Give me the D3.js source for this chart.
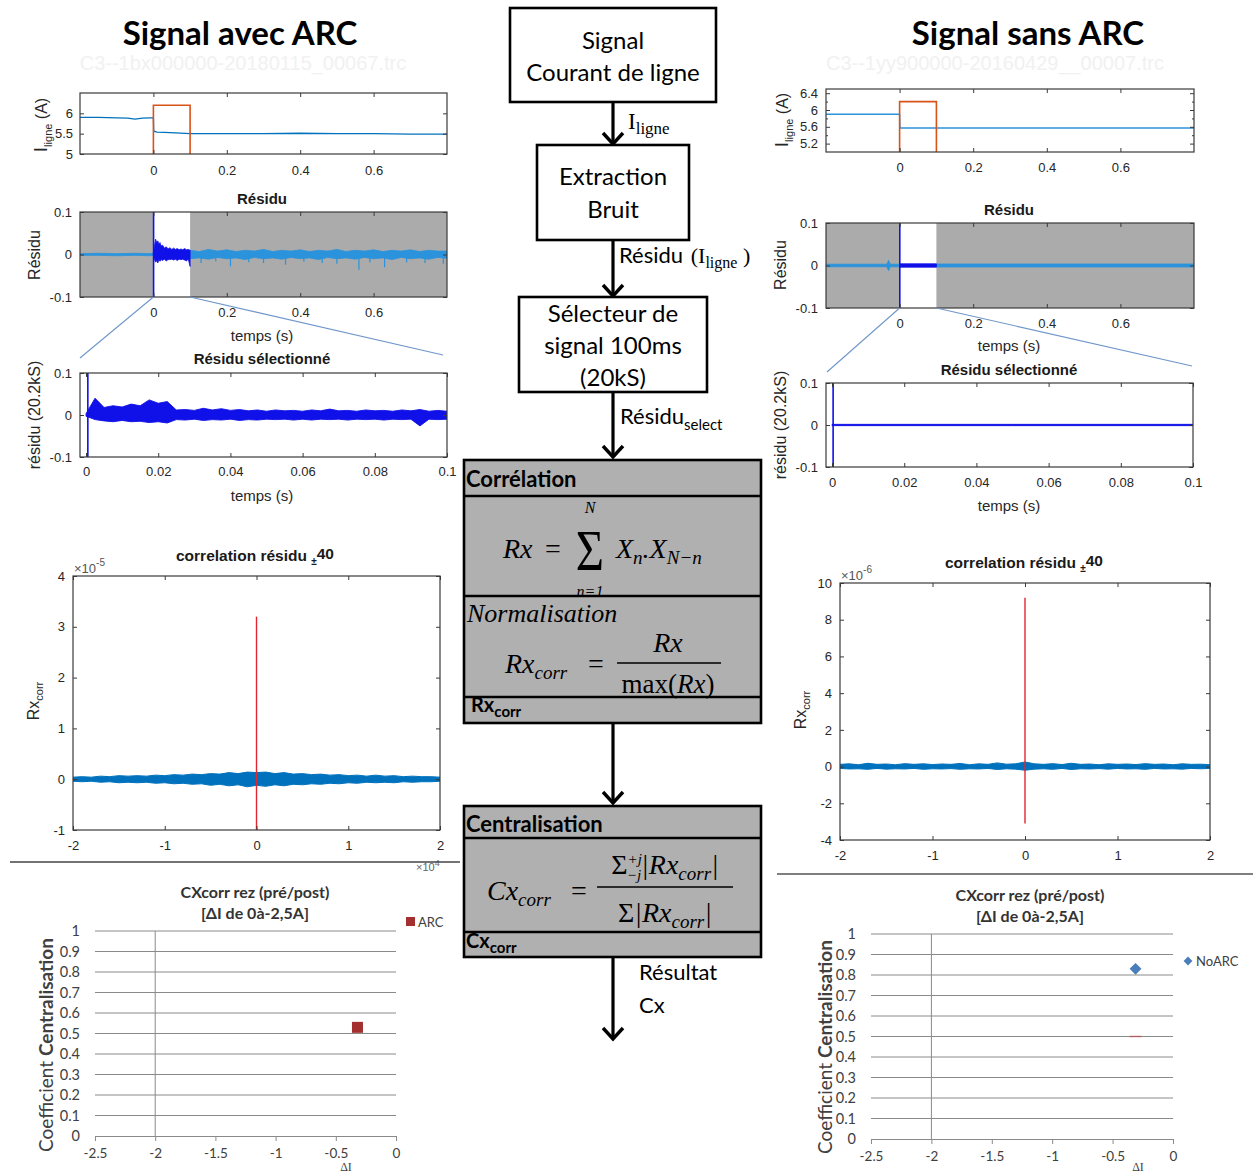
<!DOCTYPE html>
<html>
<head>
<meta charset="utf-8">
<script src="https://cdn.jsdelivr.net/npm/d3@7"></script>
<style>
html,body{margin:0;padding:0;background:#fff;}
svg{display:block;}
</style>
</head>
<body>
<svg id="chart" width="1253" height="1175"></svg>
<script>
// ================= DATA =================
const timeTicks = [0, 0.2, 0.4, 0.6];
const timeTickLabels = ["0", "0.2", "0.4", "0.6"];
const selTicks = [0, 0.02, 0.04, 0.06, 0.08, 0.1];
const selTickLabels = ["0", "0.02", "0.04", "0.06", "0.08", "0.1"];
const residuTicks = [-0.1, 0, 0.1];
const residuTickLabels = ["-0.1", "0", "0.1"];
const lagTicks = [-2, -1, 0, 1, 2];
const lagTickLabels = ["-2", "-1", "0", "1", "2"];
const ilineArcTicks = [5, 5.5, 6];
const ilineArcTickLabels = ["5", "5.5", "6"];
const ilineSansTicks = [5.2, 5.6, 6, 6.4];
const ilineSansTickLabels = ["5.2", "5.6", "6", "6.4"];
const ilineSansMinor = [5.4, 5.8, 6.2];
const corrArcTicks = [-1, 0, 1, 2, 3, 4];
const corrArcTickLabels = ["-1", "0", "1", "2", "3", "4"];
const corrSansTicks = [-4, -2, 0, 2, 4, 6, 8, 10];
const corrSansTickLabels = ["-4", "-2", "0", "2", "4", "6", "8", "10"];

// line current, with arc
const ilineArcT = [-0.2, -0.15, -0.1, -0.07, -0.05, -0.03, -0.01, 0, 0.001, 0.01, 0.03, 0.06, 0.1, 0.2, 0.3, 0.4, 0.5, 0.6, 0.7, 0.8];
const ilineArcV = [5.9, 5.9, 5.89, 5.88, 5.86, 5.88, 5.89, 5.89, 5.56, 5.54, 5.53, 5.52, 5.5, 5.5, 5.5, 5.51, 5.5, 5.5, 5.49, 5.49];
// line current, without arc
const ilineSansT = [-0.2, 0, 0.001, 0.8];
const ilineSansV = [5.9, 5.9, 5.57, 5.57];
// selection window (orange)
const windowT = [0, 0, 0.1, 0.1];
const windowV = [5, 6.2, 6.2, 5];
const selWindow = [0, 0.1];

// residual with arc (envelopes)
const resPreT = [-0.2, -0.15, -0.1, -0.05, -0.01, 0];
const resPreHi = [0.002, 0.003, 0.002, 0.003, 0.002, 0.003];
const resPreLo = [-0.002, -0.002, -0.003, -0.002, -0.003, -0.002];
const resArcT = [0, 0.003, 0.006, 0.009, 0.012, 0.015, 0.018, 0.021, 0.025, 0.03, 0.035, 0.04, 0.045, 0.05, 0.055, 0.06, 0.065, 0.07, 0.075, 0.08, 0.085, 0.09, 0.095, 0.1];
const resArcHi = [0.004, 0.02, 0.036, 0.028, 0.032, 0.024, 0.028, 0.02, 0.022, 0.015, 0.018, 0.013, 0.016, 0.012, 0.015, 0.012, 0.014, 0.011, 0.013, 0.011, 0.014, 0.011, 0.012, 0.01];
const resArcLo = [-0.004, -0.012, -0.018, -0.014, -0.02, -0.012, -0.016, -0.012, -0.014, -0.011, -0.015, -0.012, -0.012, -0.011, -0.013, -0.011, -0.014, -0.011, -0.012, -0.011, -0.013, -0.015, -0.011, -0.028];
const resPostT = [0.1, 0.125, 0.15, 0.175, 0.2, 0.225, 0.25, 0.275, 0.3, 0.325, 0.35, 0.375, 0.4, 0.425, 0.45, 0.475, 0.5, 0.525, 0.55, 0.575, 0.6, 0.625, 0.65, 0.675, 0.7, 0.725, 0.75, 0.775, 0.8];
const resPostHi = [0.01, 0.007, 0.012, 0.008, 0.011, 0.007, 0.01, 0.008, 0.012, 0.007, 0.01, 0.008, 0.011, 0.007, 0.01, 0.008, 0.012, 0.007, 0.01, 0.008, 0.011, 0.007, 0.01, 0.008, 0.011, 0.007, 0.01, 0.008, 0.008];
const resPostLo = [-0.01, -0.008, -0.011, -0.007, -0.01, -0.008, -0.012, -0.007, -0.01, -0.008, -0.011, -0.007, -0.01, -0.008, -0.012, -0.007, -0.01, -0.008, -0.011, -0.007, -0.01, -0.008, -0.012, -0.007, -0.01, -0.008, -0.011, -0.007, -0.009];
const resSpikeT = [0.13, 0.17, 0.21, 0.26, 0.3, 0.36, 0.41, 0.46, 0.5, 0.56, 0.59, 0.63, 0.69, 0.74, 0.79];
const resSpikeV = [-0.02, -0.016, -0.028, -0.018, -0.02, -0.024, -0.017, -0.02, -0.022, -0.036, -0.019, -0.03, -0.018, -0.02, -0.022];

// selected residual with arc (100 ms)
const selT = [0, 0.0025, 0.005, 0.0075, 0.01, 0.0125, 0.015, 0.0175, 0.02, 0.0225, 0.025, 0.0275, 0.03, 0.0325, 0.035, 0.0375, 0.04, 0.0425, 0.045, 0.0475, 0.05, 0.0525, 0.055, 0.0575, 0.06, 0.0625, 0.065, 0.0675, 0.07, 0.0725, 0.075, 0.0775, 0.08, 0.0825, 0.085, 0.0875, 0.09, 0.0925, 0.095, 0.0975, 0.1];
const selArcHi = [0.003, 0.04, 0.018, 0.022, 0.019, 0.026, 0.022, 0.036, 0.028, 0.032, 0.012, 0.013, 0.011, 0.016, 0.012, 0.015, 0.011, 0.013, 0.01, 0.012, 0.009, 0.012, 0.01, 0.011, 0.009, 0.012, 0.01, 0.014, 0.01, 0.011, 0.009, 0.012, 0.01, 0.011, 0.009, 0.012, 0.01, 0.013, 0.009, 0.011, 0.009];
const selArcLo = [-0.003, -0.011, -0.014, -0.016, -0.013, -0.016, -0.015, -0.018, -0.016, -0.019, -0.011, -0.012, -0.01, -0.013, -0.011, -0.012, -0.01, -0.013, -0.011, -0.012, -0.01, -0.011, -0.01, -0.012, -0.01, -0.012, -0.01, -0.011, -0.01, -0.012, -0.01, -0.011, -0.01, -0.012, -0.01, -0.011, -0.01, -0.026, -0.01, -0.011, -0.01];
const selMarkerArc = [0.0005];

// residual without arc
const sansPreT = [-0.2, -0.1, -0.035, -0.03, -0.025, 0];
const sansPreHi = [0.003, 0.003, 0.003, 0.012, 0.003, 0.003];
const sansPreLo = [-0.003, -0.003, -0.003, -0.012, -0.003, -0.003];
const sansArcT = [0, 0.05, 0.1];
const sansArcHi = [0.004, 0.004, 0.004];
const sansArcLo = [-0.004, -0.004, -0.004];
const sansPostT = [0.1, 0.45, 0.8];
const sansPostHi = [0.0035, 0.0035, 0.0035];
const sansPostLo = [-0.0035, -0.0035, -0.0035];
const selSansT = [0, 0.05, 0.1];
const selSansHi = [0.0015, 0.0015, 0.0015];
const selSansLo = [-0.0015, -0.0015, -0.0015];
const selMarkerSans = [0.0003];

// correlation (lag in x10^4)
const lagT = [-2, -1.9, -1.8, -1.7, -1.6, -1.5, -1.4, -1.3, -1.2, -1.1, -1, -0.9, -0.8, -0.7, -0.6, -0.5, -0.4, -0.3, -0.2, -0.1, 0, 0.1, 0.2, 0.3, 0.4, 0.5, 0.6, 0.7, 0.8, 0.9, 1, 1.1, 1.2, 1.3, 1.4, 1.5, 1.6, 1.7, 1.8, 1.9, 2];
const corrArcHi = [0.04, 0.05, 0.04, 0.06, 0.05, 0.07, 0.06, 0.07, 0.06, 0.08, 0.07, 0.09, 0.08, 0.1, 0.09, 0.11, 0.1, 0.13, 0.11, 0.14, 0.13, 0.14, 0.11, 0.13, 0.1, 0.11, 0.09, 0.1, 0.08, 0.09, 0.07, 0.08, 0.06, 0.08, 0.06, 0.07, 0.05, 0.06, 0.05, 0.05, 0.04];
const corrArcLo = [-0.04, -0.05, -0.04, -0.06, -0.05, -0.07, -0.06, -0.07, -0.06, -0.08, -0.07, -0.09, -0.08, -0.1, -0.09, -0.12, -0.1, -0.13, -0.11, -0.15, -0.12, -0.14, -0.11, -0.13, -0.1, -0.11, -0.09, -0.1, -0.08, -0.09, -0.07, -0.08, -0.06, -0.07, -0.06, -0.07, -0.05, -0.06, -0.05, -0.05, -0.04];
const corrArcPeak = [3.2];
const corrSansHi = [0.12, 0.15, 0.1, 0.18, 0.12, 0.14, 0.1, 0.16, 0.12, 0.15, 0.11, 0.14, 0.12, 0.17, 0.1, 0.15, 0.12, 0.2, 0.13, 0.15, 0.25, 0.15, 0.12, 0.16, 0.11, 0.18, 0.12, 0.14, 0.1, 0.15, 0.12, 0.14, 0.11, 0.16, 0.12, 0.14, 0.1, 0.15, 0.12, 0.13, 0.1];
const corrSansLo = [-0.1, -0.13, -0.12, -0.15, -0.1, -0.14, -0.12, -0.13, -0.1, -0.15, -0.12, -0.13, -0.11, -0.15, -0.12, -0.13, -0.1, -0.16, -0.12, -0.14, -0.2, -0.14, -0.12, -0.15, -0.1, -0.16, -0.12, -0.13, -0.11, -0.14, -0.1, -0.13, -0.12, -0.15, -0.1, -0.13, -0.12, -0.14, -0.1, -0.12, -0.1];
const corrSansPeak = [9.2];
const corrSansTrough = [-3.1];

// centralisation coefficient (Excel charts)
const cxXTicks = [-2.5, -2, -1.5, -1, -0.5, 0];
const cxXLabels = ["-2.5", "-2", "-1.5", "-1", "-0.5", "0"];
const cxYTicks = [0, 0.1, 0.2, 0.3, 0.4, 0.5, 0.6, 0.7, 0.8, 0.9, 1];
const cxYLabels = ["0", "0.1", "0.2", "0.3", "0.4", "0.5", "0.6", "0.7", "0.8", "0.9", "1"];
const arcDeltaI = [-0.32];
const arcCx = [0.53];
const noArcDeltaI = [-0.31];
const noArcCx = [0.83];
const ghostDeltaI = [-0.31];
const ghostCx = [0.5];

// ================= DRAWING =================
const svg = d3.select("#chart");
const MF = '"Liberation Sans", Arial, Helvetica, sans-serif';
const CF = 'Lato, "Open Sans", "Noto Sans", sans-serif';
const SF = '"Liberation Serif", "Times New Roman", serif';
const BLUE = "#0072bd", LBLUE = "#2b93dc", DBLUE = "#1010e8", ORANGE = "#d95319", RED = "#e0262e";
let clipCount = 0;

function rich(g, x, y, parts, o = {}) {
  const t = g.append("text").attr("x", x).attr("y", y)
    .attr("font-family", o.family || CF).attr("font-size", o.size || 14)
    .attr("fill", o.fill || "#000").attr("text-anchor", o.anchor || "start");
  if (o.weight) t.attr("font-weight", o.weight);
  if (o.style) t.attr("font-style", o.style);
  if (o.transform) t.attr("transform", o.transform);
  parts.forEach(p => {
    const s = t.append("tspan").text(p.t);
    if (p.size) s.attr("font-size", p.size);
    if (p.dy) s.attr("dy", p.dy);
    if (p.dx) s.attr("dx", p.dx);
    if (p.weight) s.attr("font-weight", p.weight);
    if (p.style) s.attr("font-style", p.style);
    if (p.family) s.attr("font-family", p.family);
  });
  return t;
}

function mplot(o) {
  const x = d3.scaleLinear().domain(o.xd).range([o.l, o.r]);
  const y = d3.scaleLinear().domain(o.yd).range([o.b, o.t]);
  const g = svg.append("g");
  const id = "clip" + (clipCount++);
  svg.append("clipPath").attr("id", id).append("rect")
    .attr("x", o.l).attr("y", o.t).attr("width", o.r - o.l).attr("height", o.b - o.t);
  if (o.bg) g.append("rect").attr("x", o.l).attr("y", o.t).attr("width", o.r - o.l).attr("height", o.b - o.t).attr("fill", o.bg);
  const plot = g.append("g").attr("clip-path", `url(#${id})`);
  return { x, y, g, plot, o };
}

function mframe(p) {
  const { x, y, g, o } = p;
  const fs = o.fs || 13;
  const style = s => {
    s.attr("font-family", MF).attr("font-size", fs);
    s.select(".domain").remove();
    s.selectAll(".tick line").attr("stroke", "#3a3a3a");
    s.selectAll(".tick text").attr("fill", "#262626");
  };
  g.append("g").attr("transform", `translate(0,${o.b})`)
    .call(d3.axisBottom(x).tickValues(o.xt).tickFormat((d, i) => o.xl[i]).tickSizeInner(-4).tickSizeOuter(0).tickPadding(o.xpad || 11)).call(style);
  g.append("g").attr("transform", `translate(0,${o.t})`)
    .call(d3.axisTop(x).tickValues(o.xt).tickFormat("").tickSizeInner(-4).tickSizeOuter(0)).call(style);
  g.append("g").attr("transform", `translate(${o.l},0)`)
    .call(d3.axisLeft(y).tickValues(o.yt).tickFormat((d, i) => o.yl[i]).tickSizeInner(-4).tickSizeOuter(0).tickPadding(o.ypad || 8)).call(style);
  g.append("g").attr("transform", `translate(${o.r},0)`)
    .call(d3.axisRight(y).tickValues(o.yt).tickFormat("").tickSizeInner(-4).tickSizeOuter(0)).call(style);
  if (o.ym) {
    g.append("g").attr("transform", `translate(${o.l},0)`)
      .call(d3.axisLeft(y).tickValues(o.ym).tickFormat("").tickSizeInner(-2).tickSizeOuter(0)).call(style);
    g.append("g").attr("transform", `translate(${o.r},0)`)
      .call(d3.axisRight(y).tickValues(o.ym).tickFormat("").tickSizeInner(-2).tickSizeOuter(0)).call(style);
  }
  g.append("rect").attr("x", o.l).attr("y", o.t).attr("width", o.r - o.l).attr("height", o.b - o.t)
    .attr("fill", "none").attr("stroke", "#3a3a3a").attr("stroke-width", 1.2);
}

function zipEnv(T, H, L) { return T.map((t, i) => ({ t, hi: H[i], lo: L[i] })); }
function band(p, data, color, sw) {
  const a = d3.area().x(d => p.x(d.t)).y0(d => p.y(d.lo)).y1(d => p.y(d.hi)).curve(d3.curveLinear);
  p.plot.append("path").datum(data).attr("d", a).attr("fill", color).attr("stroke", color).attr("stroke-width", sw || 0.8).attr("stroke-linejoin", "miter");
}
function lineSeries(p, T, V, color, sw) {
  const l = d3.line().x((d, i) => p.x(T[i])).y(d => p.y(d));
  p.plot.append("path").datum(V).attr("d", l).attr("fill", "none").attr("stroke", color).attr("stroke-width", sw || 1.3);
}
function vlines(p, T, V0, V1, color, sw) {
  p.plot.selectAll(null).data(T).join("line")
    .attr("x1", d => p.x(d)).attr("x2", d => p.x(d))
    .attr("y1", (d, i) => p.y(typeof V0 === "number" ? V0 : V0[i]))
    .attr("y2", (d, i) => p.y(typeof V1 === "number" ? V1 : V1[i]))
    .attr("stroke", color).attr("stroke-width", sw || 1);
}
function ylabel(g, cx, cy, parts, size) {
  rich(g, 0, 0, parts, { family: MF, size: size || 16, anchor: "middle", fill: "#262626", transform: `translate(${cx},${cy}) rotate(-90)` });
}

// ---------- headings ----------
rich(svg, 243, 70, [{ t: "C3--1bx000000-20180115_00067.trc" }], { family: MF, size: 20, anchor: "middle", fill: "#f1f1f1" });
rich(svg, 995, 70, [{ t: "C3--1yy900000-20160429__00007.trc" }], { family: MF, size: 20, anchor: "middle", fill: "#f1f1f1" });
rich(svg, 240, 45, [{ t: "Signal avec ARC" }], { size: 33, weight: "bold", anchor: "middle" });
rich(svg, 1028, 45, [{ t: "Signal sans ARC" }], { size: 33, weight: "bold", anchor: "middle" });

// ---------- LEFT: I_ligne ----------
const L1 = mplot({ l: 80, r: 447, t: 93, b: 154, xd: [-0.2, 0.8], yd: [5, 6.5], xt: timeTicks, xl: timeTickLabels, yt: ilineArcTicks, yl: ilineArcTickLabels, xpad: 12, ypad: 7 });
lineSeries(L1, ilineArcT, ilineArcV, BLUE, 1.3);
lineSeries(L1, windowT, windowV, ORANGE, 1.6);
mframe(L1);
ylabel(svg, 47, 125, [{ t: "I", size: 19 }, { t: "ligne", size: 11, dy: 5 }, { t: " (A)", size: 16, dy: -5 }]);

// ---------- LEFT: Résidu ----------
const L2 = mplot({ l: 80, r: 447, t: 212, b: 297, xd: [-0.2, 0.8], yd: [-0.1, 0.1], xt: timeTicks, xl: timeTickLabels, yt: residuTicks, yl: residuTickLabels, bg: "#ababab", xpad: 11, ypad: 8 });
L2.plot.append("rect").attr("x", L2.x(selWindow[0])).attr("y", 212).attr("width", L2.x(selWindow[1]) - L2.x(selWindow[0])).attr("height", 85).attr("fill", "#fff");
band(L2, zipEnv(resPreT, resPreHi, resPreLo), LBLUE);
band(L2, zipEnv(resPostT, resPostHi, resPostLo), LBLUE);
vlines(L2, resSpikeT, 0, resSpikeV, LBLUE, 1.2);
band(L2, zipEnv(resArcT, resArcHi, resArcLo), DBLUE);
vlines(L2, [0.0005], -0.1, 0.1, DBLUE, 1.6);
mframe(L2);
rich(svg, 262, 204, [{ t: "Résidu" }], { family: MF, size: 15, weight: "bold", anchor: "middle", fill: "#1a1a1a" });
rich(svg, 262, 341, [{ t: "temps (s)" }], { family: MF, size: 15, anchor: "middle", fill: "#262626" });
ylabel(svg, 40, 255, [{ t: "Résidu" }]);

// ---------- LEFT: Résidu sélectionné ----------
const L3 = mplot({ l: 80, r: 447, t: 373, b: 457, xd: [-0.00167, 0.1], yd: [-0.1, 0.1], xt: selTicks, xl: selTickLabels, yt: residuTicks, yl: residuTickLabels, xpad: 10, ypad: 8 });
band(L3, zipEnv(selT, selArcHi, selArcLo), DBLUE, 0.9);
vlines(L3, selMarkerArc, -0.1, 0.1, DBLUE, 1.6);
mframe(L3);
rich(svg, 262, 364, [{ t: "Résidu sélectionné" }], { family: MF, size: 15, weight: "bold", anchor: "middle", fill: "#1a1a1a" });
rich(svg, 262, 501, [{ t: "temps (s)" }], { family: MF, size: 15, anchor: "middle", fill: "#262626" });
ylabel(svg, 40, 415, [{ t: "résidu (20.2kS)" }]);

// zoom connectors left
svg.append("line").attr("x1", L2.x(selWindow[0])).attr("y1", 297).attr("x2", 80).attr("y2", 358).attr("stroke", "#6f96c9").attr("stroke-width", 1.1);
svg.append("line").attr("x1", L2.x(selWindow[1])).attr("y1", 297).attr("x2", 443).attr("y2", 355).attr("stroke", "#6f96c9").attr("stroke-width", 1.1);

// ---------- LEFT: correlation ----------
const L4 = mplot({ l: 73, r: 440, t: 576, b: 830, xd: [-2, 2], yd: [-1, 4], xt: lagTicks, xl: lagTickLabels, yt: corrArcTicks, yl: corrArcTickLabels, xpad: 11, ypad: 8 });
band(L4, zipEnv(lagT, corrArcHi, corrArcLo), BLUE, 1);
vlines(L4, [0], -1, corrArcPeak[0], RED, 1.4);
mframe(L4);
rich(svg, 255, 561, [{ t: "correlation résidu " }, { t: "±", size: 10, dy: 4 }, { t: "40", dy: -6 }], { family: MF, size: 15.5, weight: "bold", anchor: "middle", fill: "#1a1a1a" });
rich(svg, 74, 573, [{ t: "×10" }, { t: "-5", size: 10, dy: -7 }], { family: MF, size: 13, fill: "#555" });
ylabel(svg, 39, 701, [{ t: "Rx" }, { t: "corr", size: 11, dy: 4 }]);
rich(svg, 416, 871, [{ t: "×10" }, { t: "4", size: 9, dy: -5 }], { family: MF, size: 11, fill: "#666" });

// ---------- RIGHT: I_ligne ----------
const R1 = mplot({ l: 826, r: 1194, t: 89, b: 152, xd: [-0.2, 0.8], yd: [5, 6.5], xt: timeTicks, xl: timeTickLabels, yt: ilineSansTicks, yl: ilineSansTickLabels, ym: ilineSansMinor, xpad: 11, ypad: 8 });
lineSeries(R1, ilineSansT, ilineSansV, LBLUE, 1.4);
lineSeries(R1, windowT, windowV, ORANGE, 1.6);
mframe(R1);
ylabel(svg, 788, 120, [{ t: "I", size: 19 }, { t: "ligne", size: 11, dy: 5 }, { t: " (A)", size: 16, dy: -5 }]);

// ---------- RIGHT: Résidu ----------
const R2 = mplot({ l: 826, r: 1194, t: 223, b: 308, xd: [-0.2, 0.8], yd: [-0.1, 0.1], xt: timeTicks, xl: timeTickLabels, yt: residuTicks, yl: residuTickLabels, bg: "#ababab", xpad: 11, ypad: 8 });
R2.plot.append("rect").attr("x", R2.x(selWindow[0])).attr("y", 223).attr("width", R2.x(selWindow[1]) - R2.x(selWindow[0])).attr("height", 85).attr("fill", "#fff");
band(R2, zipEnv(sansPreT, sansPreHi, sansPreLo), LBLUE);
band(R2, zipEnv(sansPostT, sansPostHi, sansPostLo), LBLUE);
band(R2, zipEnv(sansArcT, sansArcHi, sansArcLo), DBLUE);
vlines(R2, [0.0005], -0.1, 0.1, DBLUE, 1.6);
mframe(R2);
rich(svg, 1009, 215, [{ t: "Résidu" }], { family: MF, size: 15, weight: "bold", anchor: "middle", fill: "#1a1a1a" });
rich(svg, 1009, 351, [{ t: "temps (s)" }], { family: MF, size: 15, anchor: "middle", fill: "#262626" });
ylabel(svg, 786, 265, [{ t: "Résidu" }]);

// ---------- RIGHT: Résidu sélectionné ----------
const R3 = mplot({ l: 826, r: 1193, t: 383, b: 467, xd: [-0.00167, 0.1], yd: [-0.1, 0.1], xt: selTicks, xl: selTickLabels, yt: residuTicks, yl: residuTickLabels, xpad: 11, ypad: 8 });
band(R3, zipEnv(selSansT, selSansHi, selSansLo), DBLUE, 0.9);
vlines(R3, selMarkerSans, -0.1, 0.1, DBLUE, 1.6);
mframe(R3);
rich(svg, 1009, 375, [{ t: "Résidu sélectionné" }], { family: MF, size: 15, weight: "bold", anchor: "middle", fill: "#1a1a1a" });
rich(svg, 1009, 511, [{ t: "temps (s)" }], { family: MF, size: 15, anchor: "middle", fill: "#262626" });
ylabel(svg, 786, 425, [{ t: "résidu (20.2kS)" }]);

svg.append("line").attr("x1", R2.x(selWindow[0])).attr("y1", 308).attr("x2", 827).attr("y2", 372).attr("stroke", "#6f96c9").attr("stroke-width", 1.1);
svg.append("line").attr("x1", R2.x(selWindow[1])).attr("y1", 308).attr("x2", 1192).attr("y2", 366).attr("stroke", "#6f96c9").attr("stroke-width", 1.1);

// ---------- RIGHT: correlation ----------
const R4 = mplot({ l: 840, r: 1210, t: 583, b: 840, xd: [-2, 2], yd: [-4, 10], xt: lagTicks, xl: lagTickLabels, yt: corrSansTicks, yl: corrSansTickLabels, xpad: 11, ypad: 8 });
band(R4, zipEnv(lagT, corrSansHi, corrSansLo), BLUE, 1);
vlines(R4, [0], corrSansTrough[0], corrSansPeak[0], RED, 1.4);
mframe(R4);
rich(svg, 1024, 568, [{ t: "correlation résidu " }, { t: "±", size: 10, dy: 4 }, { t: "40", dy: -6 }], { family: MF, size: 15.5, weight: "bold", anchor: "middle", fill: "#1a1a1a" });
rich(svg, 841, 580, [{ t: "×10" }, { t: "-6", size: 10, dy: -7 }], { family: MF, size: 13, fill: "#555" });
ylabel(svg, 806, 710, [{ t: "Rx" }, { t: "corr", size: 11, dy: 4 }]);

// dividers
svg.append("line").attr("x1", 10).attr("x2", 460).attr("y1", 862).attr("y2", 862).attr("stroke", "#444").attr("stroke-width", 1.6);
svg.append("line").attr("x1", 777).attr("x2", 1253).attr("y1", 874).attr("y2", 874).attr("stroke", "#555").attr("stroke-width", 1.6);

// ---------- Excel-style centralisation charts ----------
function excel(o) {
  const x = d3.scaleLinear().domain([-2.5, 0]).range([o.l, o.r]);
  const y = d3.scaleLinear().domain([0, 1]).range([o.b, o.t]);
  const g = svg.append("g");
  g.selectAll(null).data(cxYTicks.slice(1)).join("line")
    .attr("x1", o.l).attr("x2", o.r).attr("y1", d => y(d)).attr("y2", d => y(d))
    .attr("stroke", "#8a8a8a").attr("stroke-width", 1);
  g.append("line").attr("x1", x(-2)).attr("x2", x(-2)).attr("y1", y(0)).attr("y2", y(1)).attr("stroke", "#8a8a8a").attr("stroke-width", 1);
  const ax = g.append("g").attr("transform", `translate(0,${o.b})`)
    .call(d3.axisBottom(x).tickValues(cxXTicks).tickFormat((d, i) => cxXLabels[i]).tickSizeInner(5).tickSizeOuter(0).tickPadding(7));
  ax.attr("font-family", CF).attr("font-size", 13.5);
  ax.select(".domain").attr("stroke", "#8a8a8a");
  ax.selectAll(".tick line").attr("stroke", "#8a8a8a");
  ax.selectAll(".tick text").attr("fill", "#404040");
  const ay = g.append("g").attr("transform", `translate(${o.l},0)`)
    .call(d3.axisLeft(y).tickValues(cxYTicks).tickFormat((d, i) => cxYLabels[i]).tickSize(0).tickPadding(15));
  ay.attr("font-family", CF).attr("font-size", 14.5);
  ay.select(".domain").remove();
  ay.selectAll(".tick text").attr("fill", "#404040");
  rich(g, o.cx, o.ty, [{ t: "CXcorr  rez (pré/post)" }], { size: 16, weight: "bold", anchor: "middle", fill: "#333" });
  rich(g, o.cx, o.ty + 21, [{ t: "[ΔI de 0à-2,5A]" }], { size: 16, weight: "bold", anchor: "middle", fill: "#333" });
  rich(g, 0, 0, [{ t: "Coefficient " }, { t: "Centralisation", weight: "bold" }], { size: 19, anchor: "middle", fill: "#404040", transform: `translate(${o.ylx},${o.yly}) rotate(-90)` });
  rich(g, o.dix, 1171, [{ t: "ΔI" }], { family: SF, size: 12, anchor: "middle", fill: "#404040" });
  return { x, y, g };
}

const E1 = excel({ l: 95, r: 396, t: 931, b: 1136, cx: 255, ty: 898, ylx: 53, yly: 1045, dix: 346 });
E1.g.selectAll(null).data(arcDeltaI).join("rect")
  .attr("x", (d) => E1.x(d) - 5.5).attr("y", (d, i) => E1.y(arcCx[i]) - 5.5)
  .attr("width", 11).attr("height", 11).attr("fill", "#a3302e");
E1.g.append("rect").attr("x", 406).attr("y", 917).attr("width", 9).attr("height", 9).attr("fill", "#a3302e");
rich(E1.g, 418, 927, [{ t: "ARC" }], { size: 13, fill: "#404040" });

const E2 = excel({ l: 871, r: 1173, t: 934, b: 1139, cx: 1030, ty: 901, ylx: 832, yly: 1047, dix: 1138 });
E2.g.selectAll(null).data(ghostDeltaI).join("line")
  .attr("x1", d => E2.x(d) - 6).attr("x2", d => E2.x(d) + 6)
  .attr("y1", (d, i) => E2.y(ghostCx[i])).attr("y2", (d, i) => E2.y(ghostCx[i]))
  .attr("stroke", "#c0504d").attr("stroke-width", 1.5).attr("opacity", 0.7);
const diamond = d3.symbol().type(d3.symbolDiamond2).size(90);
E2.g.selectAll(null).data(noArcDeltaI).join("path")
  .attr("d", diamond).attr("transform", (d, i) => `translate(${E2.x(d)},${E2.y(noArcCx[i])})`)
  .attr("fill", "#4a7ebb");
E2.g.append("path").attr("d", d3.symbol().type(d3.symbolDiamond2).size(50)).attr("transform", "translate(1188,961)").attr("fill", "#4a7ebb");
rich(E2.g, 1196, 966, [{ t: "NoARC" }], { size: 13, fill: "#404040" });

// ================= FLOWCHART =================
const fc = svg.append("g");
function box(x0, y0, x1, y1, fill) {
  fc.append("rect").attr("x", x0).attr("y", y0).attr("width", x1 - x0).attr("height", y1 - y0)
    .attr("fill", fill || "#fff").attr("stroke", "#000").attr("stroke-width", 2.6);
}
function hline(x0, x1, y) { fc.append("line").attr("x1", x0).attr("x2", x1).attr("y1", y).attr("y2", y).attr("stroke", "#000").attr("stroke-width", 2.4); }
function arrow(x, y0, y1) {
  fc.append("line").attr("x1", x).attr("x2", x).attr("y1", y0).attr("y2", y1 - 1).attr("stroke", "#000").attr("stroke-width", 3.2);
  fc.append("polyline").attr("points", `${x - 10},${y1 - 12} ${x},${y1 - 1} ${x + 10},${y1 - 12}`)
    .attr("fill", "none").attr("stroke", "#000").attr("stroke-width", 3.4).attr("stroke-linejoin", "miter");
}

box(510, 8, 716, 102);
rich(fc, 613, 49, [{ t: "Signal" }], { size: 24, anchor: "middle" });
rich(fc, 613, 81, [{ t: "Courant de ligne" }], { size: 24, anchor: "middle" });
arrow(613, 102, 145);
rich(fc, 628, 129, [{ t: "I", size: 23 }, { t: "ligne", size: 17, dy: 5 }], { family: SF });

box(537, 145, 689, 240);
rich(fc, 613, 185, [{ t: "Extraction" }], { size: 24, anchor: "middle" });
rich(fc, 613, 218, [{ t: "Bruit" }], { size: 24, anchor: "middle" });
arrow(613, 240, 297);
rich(fc, 619, 263, [{ t: "Résidu " }, { t: "(I", family: SF, size: 22, dx: 2 }, { t: "ligne", family: SF, size: 16, dy: 5 }, { t: " )", family: SF, size: 22, dy: -5 }], { size: 22 });

box(519, 297, 707, 392);
rich(fc, 613, 322, [{ t: "Sélecteur de" }], { size: 24, anchor: "middle" });
rich(fc, 613, 354, [{ t: "signal 100ms" }], { size: 24, anchor: "middle" });
rich(fc, 613, 386, [{ t: "(20kS)" }], { size: 24, anchor: "middle" });
arrow(613, 392, 458);
rich(fc, 620, 424, [{ t: "Résidu" }, { t: "select", size: 15, dy: 6 }], { size: 22 });

// Corrélation block
box(464, 460, 761, 723, "#b0b0b0");
hline(464, 761, 496);
hline(464, 761, 596);
hline(464, 761, 697);
rich(fc, 466, 487, [{ t: "Corrélation" }], { size: 22, weight: "bold" });
rich(fc, 503, 558, [{ t: "Rx" }], { family: SF, size: 28, style: "italic" });
rich(fc, 545, 558, [{ t: "=" }], { family: SF, size: 28 });
rich(fc, 0, 0, [{ t: "Σ" }], { family: SF, size: 54, anchor: "middle", transform: "translate(590,570) scale(0.9,1.05)" });
rich(fc, 590, 513, [{ t: "N" }], { family: SF, size: 16, style: "italic", anchor: "middle" });
rich(fc, 590, 597, [{ t: "n=1" }], { family: SF, size: 16, style: "italic", anchor: "middle" });
rich(fc, 616, 558, [{ t: "X" }, { t: "n", size: 19, dy: 6 }, { t: ".", dy: -6 }, { t: "X" }, { t: "N−n", size: 19, dy: 6 }], { family: SF, size: 28, style: "italic" });
rich(fc, 467, 622, [{ t: "Normalisation" }], { family: SF, size: 26, style: "italic" });
rich(fc, 505, 673, [{ t: "Rx" }, { t: "corr", size: 19, dy: 6 }], { family: SF, size: 28, style: "italic" });
rich(fc, 588, 673, [{ t: "=" }], { family: SF, size: 28 });
rich(fc, 668, 652, [{ t: "Rx" }], { family: SF, size: 28, style: "italic", anchor: "middle" });
fc.append("line").attr("x1", 617).attr("x2", 721).attr("y1", 663).attr("y2", 663).attr("stroke", "#000").attr("stroke-width", 1.5);
rich(fc, 668, 693, [{ t: "max(" }, { t: "Rx", style: "italic" }, { t: ")" }], { family: SF, size: 27, anchor: "middle" });
rich(fc, 471, 712, [{ t: "Rx" }, { t: "corr", size: 15, dy: 5 }], { size: 20, weight: "bold" });
arrow(613, 723, 804);

// Centralisation block
box(464, 806, 761, 957, "#b0b0b0");
hline(464, 761, 838);
hline(464, 761, 932);
rich(fc, 466, 832, [{ t: "Centralisation" }], { size: 22, weight: "bold" });
rich(fc, 487, 900, [{ t: "Cx" }, { t: "corr", size: 19, dy: 6 }], { family: SF, size: 28, style: "italic" });
rich(fc, 571, 900, [{ t: "=" }], { family: SF, size: 28 });
fc.append("line").attr("x1", 597).attr("x2", 733).attr("y1", 887).attr("y2", 887).attr("stroke", "#000").attr("stroke-width", 1.5);
rich(fc, 665, 874, [{ t: "Σ", style: "normal" }, { t: "+j", size: 15, dy: -10 }, { t: "−j", size: 15, dx: -15, dy: 16 }, { t: "|Rx", dy: -6 }, { t: "corr", size: 19, dy: 6 }, { t: "|", dy: -6 }], { family: SF, size: 28, style: "italic", anchor: "middle" });
rich(fc, 665, 922, [{ t: "Σ", style: "normal" }, { t: "|Rx" }, { t: "corr", size: 19, dy: 6 }, { t: "|", dy: -6 }], { family: SF, size: 28, style: "italic", anchor: "middle" });
rich(fc, 466, 948, [{ t: "Cx" }, { t: "corr", size: 15, dy: 5 }], { size: 20, weight: "bold" });
arrow(613, 957, 1040);
rich(fc, 639, 980, [{ t: "Résultat" }], { size: 22 });
rich(fc, 639, 1013, [{ t: "Cx" }], { size: 22 });
</script>
</body>
</html>
